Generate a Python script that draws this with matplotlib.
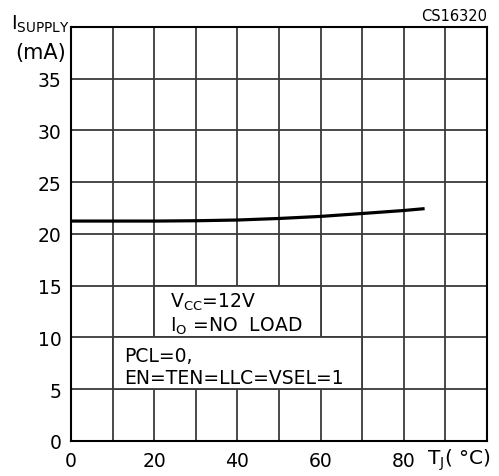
import numpy as np
import matplotlib
matplotlib.use('Agg')
import matplotlib.pyplot as plt
from matplotlib.patches import Rectangle

plt.rcParams['font.family'] = ['DejaVu Sans']
plt.rcParams['mathtext.fontset'] = 'custom'
plt.rcParams['mathtext.rm'] = 'DejaVu Sans'

# data
tj = [0, 10, 20, 30, 40, 50, 60, 70, 80, 85]
i_supply = [21.25, 21.25, 21.25, 21.28, 21.35, 21.5, 21.7, 21.98, 22.27, 22.45]
x_ticks = [0, 20, 40, 60, 80]
y_ticks = [0, 5, 10, 15, 20, 25, 30, 35]

fig = plt.figure(figsize=(4.99, 4.77), dpi=100)
ax = fig.add_axes([0.1423, 0.0734, 0.8337, 0.8679])
ax.set_xlim(0, 100)
ax.set_ylim(0, 40)

# grid
for x in range(10, 100, 10):
    ax.axvline(x, color='#3a3a3a', lw=1.3, zorder=1)
for y in range(5, 40, 5):
    ax.axhline(y, color='#3a3a3a', lw=1.3, zorder=1)

# white panels behind the notes
ax.add_patch(Rectangle((20, 10), 40, 5, facecolor='white', edgecolor='#3a3a3a', lw=1.3, zorder=2))
ax.add_patch(Rectangle((10, 5), 60, 5, facecolor='white', edgecolor='#3a3a3a', lw=1.3, zorder=2))

ax.plot(tj, i_supply, color='black', lw=2.3, zorder=3, solid_capstyle='butt')

ax.set_xticks(x_ticks)
ax.set_yticks(y_ticks)
ax.tick_params(length=0, labelsize=13.5, pad=7)
for s in ax.spines.values():
    s.set_linewidth(1.5)
    s.set_color('black')

fs = 13.5
ax.text(23.8, 13.0, r'V$_{\rm CC}$=12V', fontsize=fs, zorder=4)
ax.text(23.8, 10.67, r'I$_{\rm O}$ =NO  LOAD', fontsize=fs, zorder=4)
ax.text(12.7, 7.77, 'PCL=0,', fontsize=fs, zorder=4)
ax.text(12.7, 5.6, 'EN=TEN=LLC=VSEL=1', fontsize=fs, zorder=4)

fig.text(0.022, 0.938, r'I$_{\rm SUPPLY}$', fontsize=14, ha='left', va='baseline')
fig.text(0.03, 0.877, '(mA)', fontsize=15, ha='left', va='baseline')
fig.text(0.976, 0.955, 'CS16320', fontsize=10.5, ha='right', va='baseline')
fig.text(0.855, 0.025, r'T$_{\rm J}$( °C)', fontsize=14.5, ha='left', va='baseline')

fig.savefig('out.png', dpi=100)
